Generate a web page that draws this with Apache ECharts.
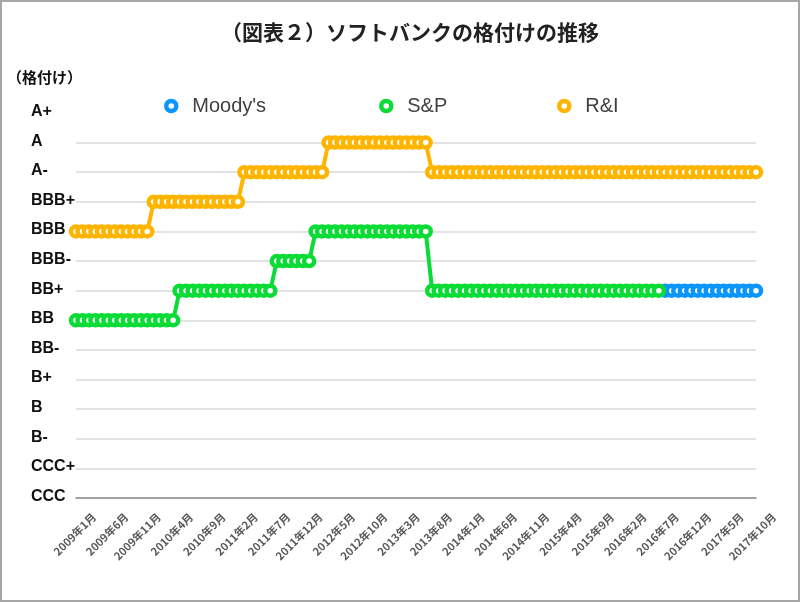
<!DOCTYPE html>
<html>
<head>
<meta charset="utf-8">
<script src="https://cdn.jsdelivr.net/npm/echarts@6/dist/echarts.min.js"></script>
<style>
html,body{margin:0;padding:0;background:#fff;}
#chart{width:800px;height:602px;}
</style>
</head>
<body>
<div id="chart"></div>
<script>
const ratingLevels = ['CCC','CCC+','B-','B','B+','BB-','BB','BB+','BBB-','BBB','BBB+','A-','A','A+'];

const months = [
 '2009年1月','2009年2月','2009年3月','2009年4月','2009年5月','2009年6月','2009年7月','2009年8月','2009年9月','2009年10月','2009年11月','2009年12月',
 '2010年1月','2010年2月','2010年3月','2010年4月','2010年5月','2010年6月','2010年7月','2010年8月','2010年9月','2010年10月','2010年11月','2010年12月',
 '2011年1月','2011年2月','2011年3月','2011年4月','2011年5月','2011年6月','2011年7月','2011年8月','2011年9月','2011年10月','2011年11月','2011年12月',
 '2012年1月','2012年2月','2012年3月','2012年4月','2012年5月','2012年6月','2012年7月','2012年8月','2012年9月','2012年10月','2012年11月','2012年12月',
 '2013年1月','2013年2月','2013年3月','2013年4月','2013年5月','2013年6月','2013年7月','2013年8月','2013年9月','2013年10月','2013年11月','2013年12月',
 '2014年1月','2014年2月','2014年3月','2014年4月','2014年5月','2014年6月','2014年7月','2014年8月','2014年9月','2014年10月','2014年11月','2014年12月',
 '2015年1月','2015年2月','2015年3月','2015年4月','2015年5月','2015年6月','2015年7月','2015年8月','2015年9月','2015年10月','2015年11月','2015年12月',
 '2016年1月','2016年2月','2016年3月','2016年4月','2016年5月','2016年6月','2016年7月','2016年8月','2016年9月','2016年10月','2016年11月','2016年12月',
 '2017年1月','2017年2月','2017年3月','2017年4月','2017年5月','2017年6月','2017年7月','2017年8月','2017年9月','2017年10月'
];

const moodys = [
 null,null,null,null,null,null,null,null,null,null,null,null,
 null,null,null,null,null,null,null,null,null,null,null,null,
 null,null,null,null,null,null,null,null,null,null,null,null,
 null,null,null,null,null,null,null,null,null,null,null,null,
 null,null,null,null,null,null,null,null,null,null,null,null,
 null,null,null,null,null,null,null,null,null,null,null,null,
 null,null,null,null,null,null,null,null,null,null,null,null,
 null,null,null,null,null,null,null,'BB+','BB+','BB+','BB+','BB+',
 'BB+','BB+','BB+','BB+','BB+','BB+','BB+','BB+','BB+','BB+'
];

const sp = [
 'BB','BB','BB','BB','BB','BB','BB','BB','BB','BB','BB','BB',
 'BB','BB','BB','BB','BB+','BB+','BB+','BB+','BB+','BB+','BB+','BB+',
 'BB+','BB+','BB+','BB+','BB+','BB+','BB+','BBB-','BBB-','BBB-','BBB-','BBB-',
 'BBB-','BBB','BBB','BBB','BBB','BBB','BBB','BBB','BBB','BBB','BBB','BBB',
 'BBB','BBB','BBB','BBB','BBB','BBB','BBB','BB+','BB+','BB+','BB+','BB+',
 'BB+','BB+','BB+','BB+','BB+','BB+','BB+','BB+','BB+','BB+','BB+','BB+',
 'BB+','BB+','BB+','BB+','BB+','BB+','BB+','BB+','BB+','BB+','BB+','BB+',
 'BB+','BB+','BB+','BB+','BB+','BB+','BB+',null,null,null,null,null,
 null,null,null,null,null,null,null,null,null,null
];

const ri = [
 'BBB','BBB','BBB','BBB','BBB','BBB','BBB','BBB','BBB','BBB','BBB','BBB',
 'BBB+','BBB+','BBB+','BBB+','BBB+','BBB+','BBB+','BBB+','BBB+','BBB+','BBB+','BBB+',
 'BBB+','BBB+','A-','A-','A-','A-','A-','A-','A-','A-','A-','A-',
 'A-','A-','A-','A','A','A','A','A','A','A','A','A',
 'A','A','A','A','A','A','A','A-','A-','A-','A-','A-',
 'A-','A-','A-','A-','A-','A-','A-','A-','A-','A-','A-','A-',
 'A-','A-','A-','A-','A-','A-','A-','A-','A-','A-','A-','A-',
 'A-','A-','A-','A-','A-','A-','A-','A-','A-','A-','A-','A-',
 'A-','A-','A-','A-','A-','A-','A-','A-','A-','A-'
];

const seriesNames = ["Moody's", 'S&P', 'R&I'];
const seriesColors = ['#0a96fb', '#0bdc35', '#ffb500'];
const seriesData = [moodys, sp, ri];

const JP = '"Noto Sans CJK JP", sans-serif';
const LAT = '"Liberation Sans", "Noto Sans CJK JP", sans-serif';

const toIdx = arr => arr.map(r => r === null ? null : ratingLevels.indexOf(r));

const legendLefts = [164, 379, 557];

const chart = echarts.init(document.getElementById('chart'), null, {renderer: 'canvas'});
chart.setOption({
  animation: false,
  backgroundColor: '#fff',
  legend: seriesNames.map((n, i) => ({
    left: legendLefts[i], top: 95, padding: 0,
    itemWidth: 32, itemHeight: 10,
    textStyle: {fontSize: 20, color: '#404040', fontFamily: LAT, lineHeight: 22},
    data: [{name: n, icon: 'circle',
            itemStyle: {color: '#fff', borderColor: seriesColors[i], borderWidth: 4.5}}]
  })),
  grid: [
    {left: 76, right: 44, top: 113, bottom: 104},
    // label-only grid, shifted right so the rotated month labels sit like the original's
    {left: 94, right: 26, top: 113, bottom: 104}
  ],
  xAxis: [
    {
      type: 'category', data: months, boundaryGap: false, gridIndex: 0,
      axisLine: {lineStyle: {color: '#8c8c8c', width: 1.5}},
      axisTick: {show: false},
      splitLine: {show: false},
      axisLabel: {show: false}
    },
    {
      type: 'category', data: months, boundaryGap: false, gridIndex: 1,
      axisLine: {show: false}, axisTick: {show: false}, splitLine: {show: false},
      axisLabel: {interval: 4, rotate: 45, margin: 17,
                  fontSize: 11, fontWeight: 'bold', color: '#595959', fontFamily: JP}
    }
  ],
  yAxis: [
    {
      type: 'value', min: 0, max: 13, interval: 1, gridIndex: 0,
      axisLine: {show: false}, axisTick: {show: false},
      splitLine: {show: true, showMaxLine: false, lineStyle: {color: '#d9d9d9', width: 1.5}},
      axisLabel: {formatter: v => ratingLevels[v], align: 'left', margin: 45,
                  verticalAlign: 'bottom', lineHeight: 3, fontSize: 16, fontWeight: 'bold', color: '#111', fontFamily: LAT}
    },
    {
      type: 'value', min: 0, max: 13, interval: 1, gridIndex: 1, show: false
    }
  ],
  series: seriesNames.map((n, i) => ({
    name: n, type: 'line', data: toIdx(seriesData[i]), xAxisIndex: 0, yAxisIndex: 0,
    symbol: 'circle', symbolSize: 10, showSymbol: true, showAllSymbol: true,
    lineStyle: {color: seriesColors[i], width: 4},
    itemStyle: {color: '#fff', borderColor: seriesColors[i], borderWidth: 4.5},
    emphasis: {disabled: true}
  })),
  graphic: [
    {type: 'text', silent: true, x: 410, y: 32,
     style: {text: '（図表２）ソフトバンクの格付けの推移', textAlign: 'center', textVerticalAlign: 'middle',
             font: 'bold 21px "Noto Sans CJK JP", sans-serif', fill: '#222'}},
    {type: 'text', silent: true, x: 7, y: 77,
     style: {text: '（格付け）', textAlign: 'left', textVerticalAlign: 'middle',
             font: 'bold 15px "Noto Sans CJK JP", sans-serif', fill: '#111'}},
    {type: 'rect', silent: true,
     shape: {x: 1, y: 1, width: 798, height: 600},
     style: {fill: 'none', stroke: '#a6a6a6', lineWidth: 2}}
  ]
});
</script>
</body>
</html>
